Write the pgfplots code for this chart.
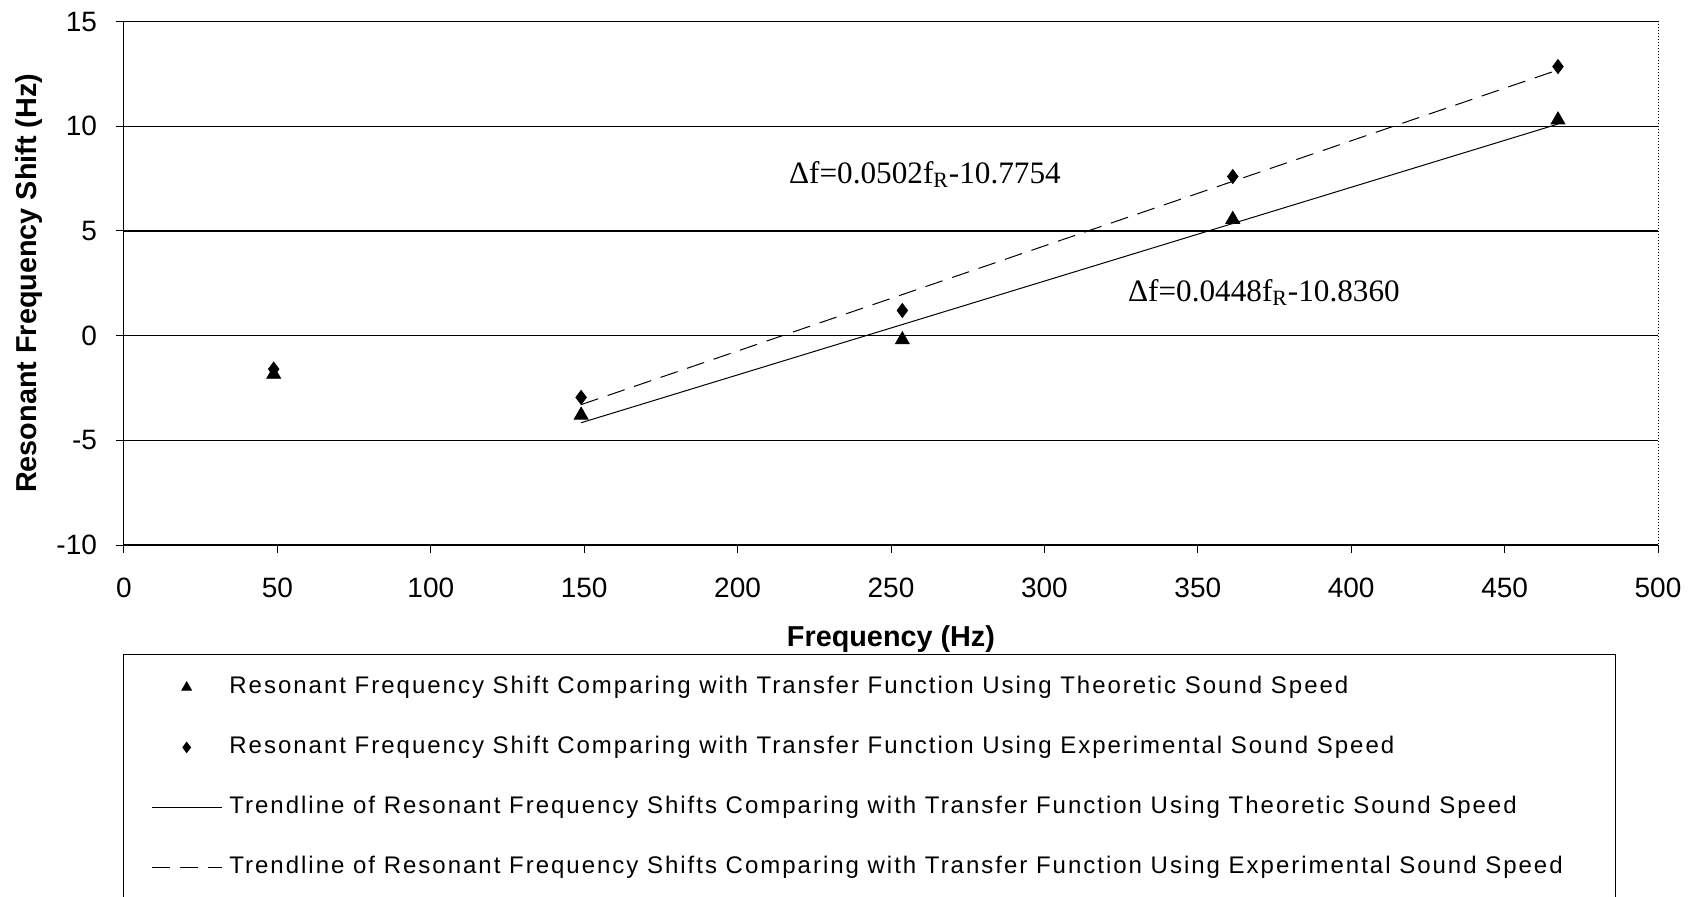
\documentclass[border=0pt]{standalone}
\usepackage{fontspec}
\setmainfont{Liberation Sans}
\newfontfamily\serifann{Liberation Serif}
\newfontfamily\legfont[LetterSpace=8.3]{Liberation Sans}
\usepackage{pgfplots}
\pgfplotsset{compat=1.18}
\begin{document}
\begin{tikzpicture}
\begin{axis}[
  at={(0,0)}, anchor=south west,
  scale only axis,
  width=767pt, height=261.75pt,
  xmin=0, xmax=500, ymin=-10, ymax=15,
  xtick={0,50,...,500}, ytick={-10,-5,...,15},
  axis x line=bottom, axis y line=left,
  axis line style={-, black, line width=0.5pt},
  tick align=outside,
  major tick length=4pt,
  tick style={black, line width=0.5pt},
  ymajorgrids,
  major grid style={black, line width=0.7pt},
  /pgf/number format/assume math mode=true,
  ticklabel style={font=\fontsize{14}{16}\selectfont},
  xticklabel style={yshift=-9pt},
  yticklabel style={xshift=-6pt},
  xlabel={\textbf{Frequency (Hz)}},
  ylabel={\textbf{Resonant Frequency Shift (Hz)}},
  label style={font=\fontsize{14.4}{16}\selectfont},
  xlabel style={yshift=-6.8pt},
  ylabel style={yshift=0pt},
  legend cell align=left,
  legend image code/.code={\draw[mark repeat=2,mark phase=2,#1] plot coordinates {(0pt,0pt) (17.5pt,0pt) (35pt,0pt)};},
  legend style={at={(axis description cs:0,0)}, anchor=north west,
    xshift=13.4pt, yshift=-65pt, draw=none, fill=none, inner sep=0pt,
    row sep=18pt, column sep=3.6pt,
    nodes={inner sep=0pt, text height=9pt, text depth=3pt},
    font=\legfont\fontsize{12}{14}\selectfont},
  clip=false,
]
\addplot[only marks, mark=triangle*, mark size=4pt, black, legend image post style={mark size=2.8pt}] coordinates {
  (48.8,-1.85) (149,-3.8) (253.7,-0.2) (361.4,5.55) (467.4,10.3)};
\addlegendentry{Resonant Frequency Shift Comparing with Transfer Function Using Theoretic Sound Speed}
\addplot[only marks, mark=diamond*, mark size=3.5pt, black, legend image post style={mark size=2.6pt}] coordinates {
  (48.8,-1.6) (149,-2.95) (253.7,1.2) (361.4,7.6) (467.4,12.85)};
\addlegendentry{Resonant Frequency Shift Comparing with Transfer Function Using Experimental Sound Speed}
\addplot[black, line width=0.5pt, no marks] coordinates {(149,-4.161) (467.4,10.103)};
\addlegendentry{Trendline of Resonant Frequency Shifts Comparing with Transfer Function Using Theoretic Sound Speed}
\addplot[black, line width=0.5pt, no marks, dash pattern=on 9pt off 5pt] coordinates {(149,-3.296) (467.4,12.688)};
\addlegendentry{Trendline of Resonant Frequency Shifts Comparing with Transfer Function Using Experimental Sound Speed}
\draw[black, line width=0.5pt, densely dotted] (rel axis cs:0,1) -- (rel axis cs:1,1) -- (rel axis cs:1,0);
\node[anchor=west, font=\serifann\fontsize{15.6}{18}\selectfont] at (axis cs:214.5,7.7) {Δf=0.0502f\textsubscript{R}-10.7754};
\node[anchor=west, font=\serifann\fontsize{15.6}{18}\selectfont] at (axis cs:325,2.05) {Δf=0.0448f\textsubscript{R}-10.8360};
\end{axis}
\draw[black, line width=0.5pt] (0pt,-54.5pt) rectangle (745.5pt,-190pt);
\pgfresetboundingbox
\useasboundingbox (-62pt,-175.5pt) rectangle (782pt,272.5pt);
\end{tikzpicture}
\end{document}
